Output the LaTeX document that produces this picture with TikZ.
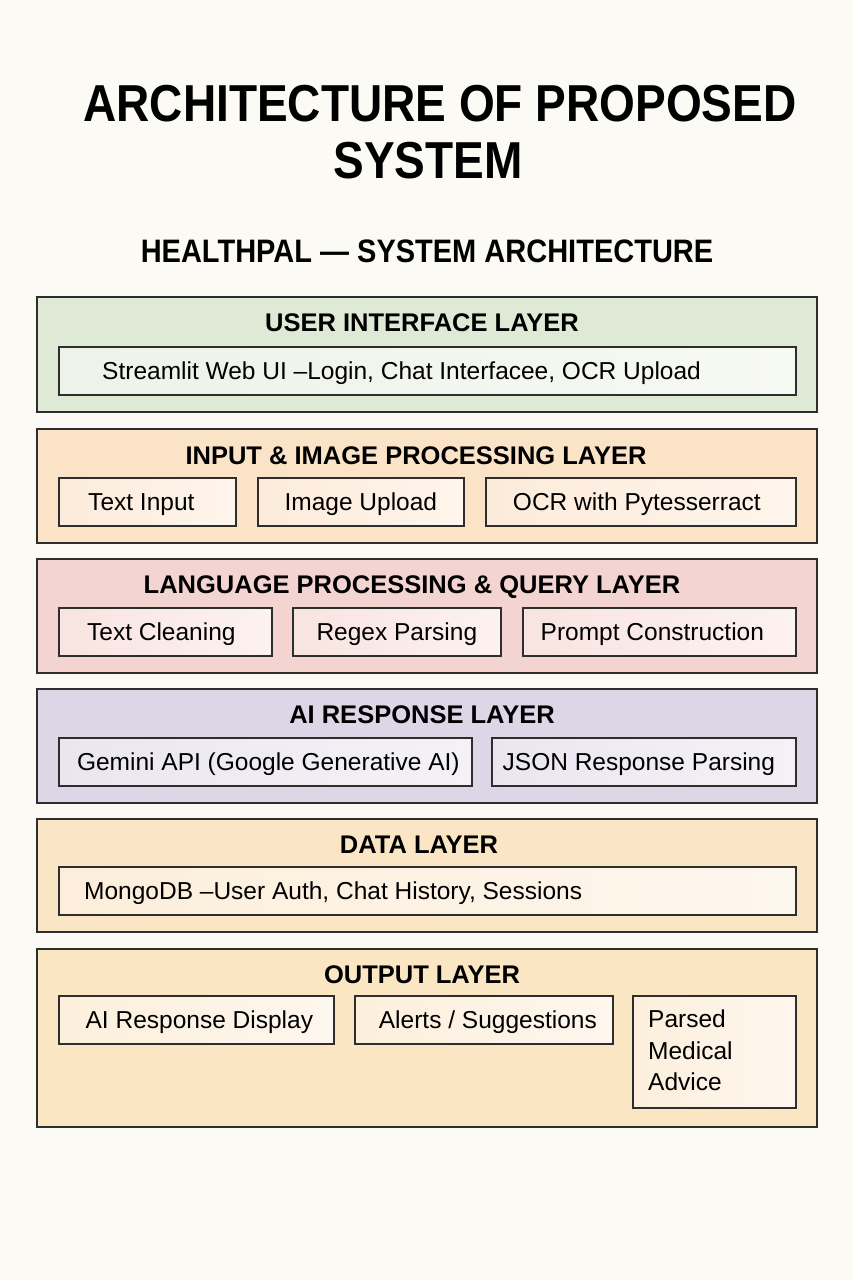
\documentclass[tikz,border=0pt]{standalone}
\usepackage{fontspec}
\setmainfont{Liberation Sans}
\usetikzlibrary{positioning}
\definecolor{bgc}{HTML}{FCFAF5}
\definecolor{edge}{HTML}{2E2E2E}
\definecolor{uiO}{HTML}{DEEAD5}\definecolor{uiL}{HTML}{EDF3E8}\definecolor{uiR}{HTML}{F7F9F3}
\definecolor{inO}{HTML}{FBE3C8}\definecolor{inL}{HTML}{FCEBDA}\definecolor{inR}{HTML}{FEF5EC}
\definecolor{lpO}{HTML}{F3D4D1}\definecolor{lpL}{HTML}{F8E4E1}\definecolor{lpR}{HTML}{FCF2F0}
\definecolor{aiO}{HTML}{DDD6E6}\definecolor{aiL}{HTML}{EAE6F0}\definecolor{aiR}{HTML}{F4F2F6}
\definecolor{daO}{HTML}{FAE6C5}\definecolor{daL}{HTML}{FCEEDA}\definecolor{daR}{HTML}{FEF7EE}
\definecolor{ouO}{HTML}{FBE6C3}\definecolor{ouL}{HTML}{FCEFDC}\definecolor{ouR}{HTML}{FEF7EE}
\tikzset{
  layerbox/.style={draw=edge, line width=1.8pt, anchor=north west, inner sep=0pt},
  itembox/.style={draw=edge, line width=1.7pt, anchor=north west, inner sep=0pt, minimum height=48pt},
  itemtext/.style={font=\fontsize{24.5}{28}\selectfont, text=black, inner sep=0pt, text height=17.5pt, text depth=0pt},
  layertitle/.style={font=\fontsize{25.5}{30}\selectfont\bfseries, text=black, anchor=base, inner sep=0pt},
}
\begin{document}
\begin{tikzpicture}[x=1pt,y=-1pt]
\useasboundingbox (0,0) rectangle (853,1280);
\fill[bgc] (0,0) rectangle (853,1280);

% titles
\node[font=\fontsize{46}{50}\selectfont\bfseries, anchor=base, inner sep=0pt] (t1) at (440,121) {\scalebox{1}[1.13]{ARCHITECTURE OF PROPOSED}};
\node[font=\fontsize{46}{50}\selectfont\bfseries, anchor=base, inner sep=0pt] (t2) at (428,178) {\scalebox{1}[1.13]{SYSTEM}};
\node[font=\fontsize{29}{32}\selectfont\bfseries, anchor=base, inner sep=0pt] (t3) at (427,262) {\scalebox{1}[1.12]{HEALTHPAL — SYSTEM ARCHITECTURE}};

% ---------- USER INTERFACE LAYER
\node[layerbox, fill=uiO, minimum width=780pt, minimum height=115pt] (L1) at (36,296) {};
\node[layertitle] (L1t) at (422,331) {USER INTERFACE LAYER};
\node[itembox, left color=uiL, right color=uiR, minimum width=737pt] (b11) at (58,346) {};
\node[itemtext, anchor=west] (b11t) at ([xshift=44pt]b11.west) {Streamlit Web UI –Login, Chat Interfacee, OCR Upload};

% ---------- INPUT & IMAGE PROCESSING LAYER
\node[layerbox, fill=inO, minimum width=780pt, minimum height=114pt] (L2) at (36,428) {};
\node[layertitle] (L2t) at (416,464) {INPUT \& IMAGE PROCESSING LAYER};
\node[itembox, left color=inL, right color=inR, minimum width=177pt] (b21) at (58,477) {};
\node[itemtext] (b21t) at ([xshift=-6pt]b21.center) {Text Input};
\node[itembox, left color=inL, right color=inR, minimum width=206pt] (b22) at (257,477) {};
\node[itemtext] (b22t) at (b22.center) {Image Upload};
\node[itembox, left color=inL, right color=inR, minimum width=310pt] (b23) at (485,477) {};
\node[itemtext] (b23t) at ([xshift=-4pt]b23.center) {OCR with Pytesserract};

% ---------- LANGUAGE PROCESSING & QUERY LAYER
\node[layerbox, fill=lpO, minimum width=780pt, minimum height=114pt] (L3) at (36,558) {};
\node[layertitle] (L3t) at (412,593) {LANGUAGE PROCESSING \& QUERY LAYER};
\node[itembox, left color=lpL, right color=lpR, minimum width=213pt] (b31) at (58,607) {};
\node[itemtext] (b31t) at ([xshift=-4pt]b31.center) {Text Cleaning};
\node[itembox, left color=lpL, right color=lpR, minimum width=208pt] (b32) at (292,607) {};
\node[itemtext] (b32t) at (b32.center) {Regex Parsing};
\node[itembox, left color=lpL, right color=lpR, minimum width=273pt] (b33) at (522,607) {};
\node[itemtext] (b33t) at ([xshift=-7pt]b33.center) {Prompt Construction};

% ---------- AI RESPONSE LAYER
\node[layerbox, fill=aiO, minimum width=780pt, minimum height=114pt] (L4) at (36,688) {};
\node[layertitle] (L4t) at (422,723) {AI RESPONSE LAYER};
\node[itembox, left color=aiL, right color=aiR, minimum width=413pt] (b41) at (58,737) {};
\node[itemtext] (b41t) at ([xshift=3pt]b41.center) {Gemini API (Google Generative AI)};
\node[itembox, left color=aiL, right color=aiR, minimum width=304pt] (b42) at (491,737) {};
\node[itemtext] (b42t) at ([xshift=-5pt]b42.center) {JSON Response Parsing};

% ---------- DATA LAYER
\node[layerbox, fill=daO, minimum width=780pt, minimum height=113pt] (L5) at (36,818) {};
\node[layertitle] (L5t) at (419,853) {DATA LAYER};
\node[itembox, left color=daL, right color=daR, minimum width=737pt] (b51) at (58,866) {};
\node[itemtext, anchor=west] (b51t) at ([xshift=26pt]b51.west) {MongoDB –User Auth, Chat History, Sessions};

% ---------- OUTPUT LAYER
\node[layerbox, fill=ouO, minimum width=780pt, minimum height=178pt] (L6) at (36,948) {};
\node[layertitle] (L6t) at (422,983) {OUTPUT LAYER};
\node[itembox, left color=ouL, right color=ouR, minimum width=275pt] (b61) at (58,995) {};
\node[itemtext] (b61t) at ([xshift=3pt]b61.center) {AI Response Display};
\node[itembox, left color=ouL, right color=ouR, minimum width=258pt] (b62) at (354,995) {};
\node[itemtext] (b62t) at ([xshift=4pt]b62.center) {Alerts / Suggestions};
\node[itembox, left color=ouL, right color=ouR, minimum width=163pt, minimum height=112pt] (b63) at (632,995) {};
\node[font=\fontsize{24.5}{31.5}\selectfont, align=left, anchor=north west, inner sep=0pt] (b63t) at ([xshift=16pt,yshift=-15pt]b63.north west) {Parsed\\Medical\\Advice};
\end{tikzpicture}
\end{document}
